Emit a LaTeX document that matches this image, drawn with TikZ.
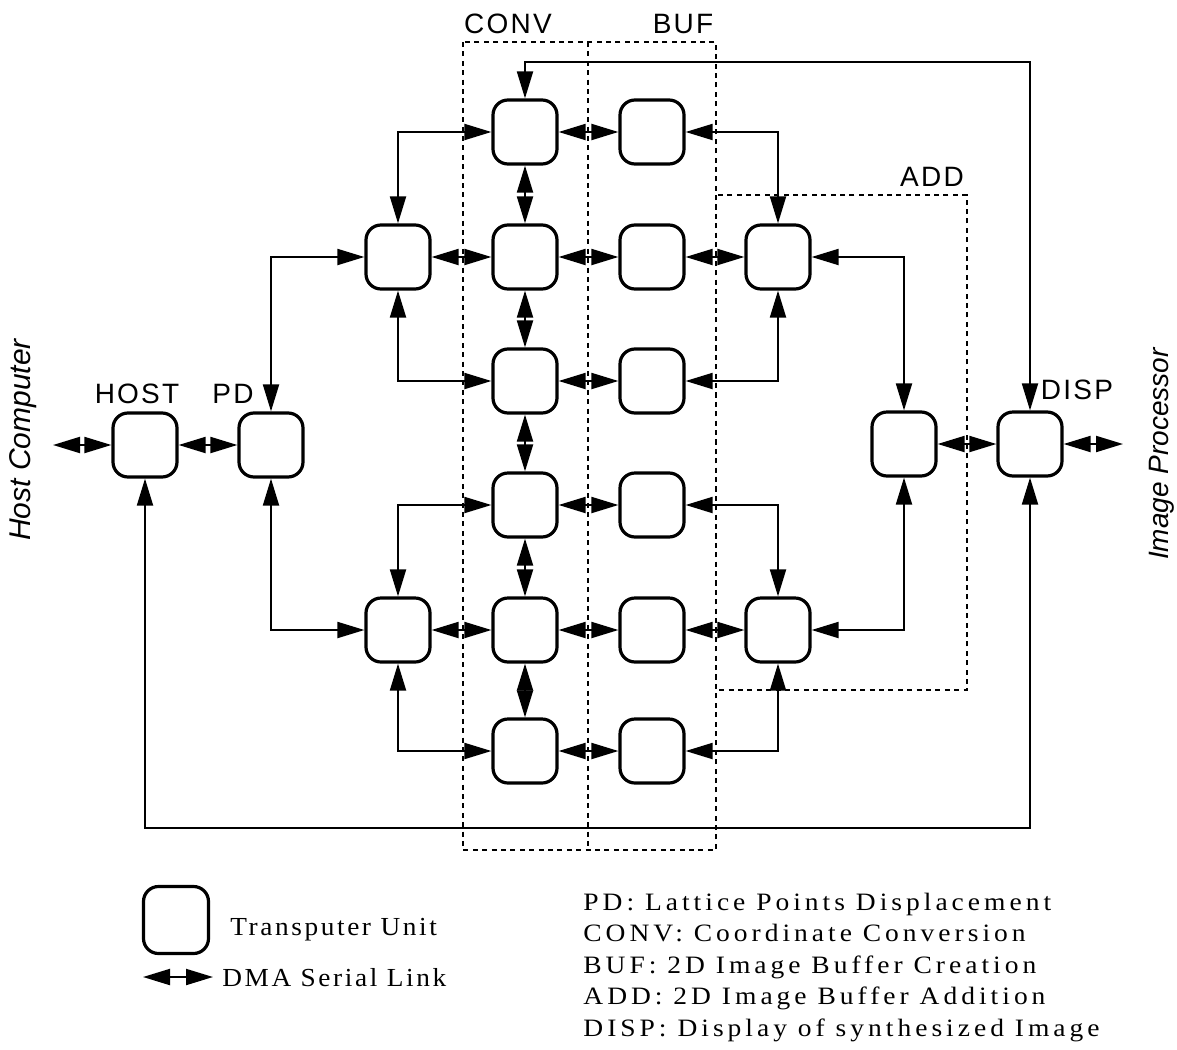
\documentclass[tikz,border=0pt]{standalone}
\usepackage{fontspec}
\setmainfont{Liberation Serif}
\newfontfamily\legfont[FakeStretch=1.05,LetterSpace=10]{Liberation Serif}
\newfontfamily\defsfont[FakeStretch=1.1,LetterSpace=16]{Liberation Serif}
\newfontfamily\labfont[LetterSpace=8]{Liberation Sans}
\newfontfamily\sidefont{Liberation Sans}
\usetikzlibrary{arrows.meta}
\begin{document}
\begin{tikzpicture}[x=0.5pt,y=-0.5pt,
  unit/.style={draw, line width=1.6pt, rounded corners=7.5pt, minimum width=32pt, minimum height=32pt, inner sep=0pt, fill=white},
  link/.style={line width=1pt, {Triangle[length=13.5pt,width=8pt]}-{Triangle[length=13.5pt,width=8pt]}},
  dashbox/.style={line width=1.3pt, dash pattern=on 2.5pt off 2.2pt},
  lab/.style={font=\labfont\fontsize{14pt}{16pt}\selectfont, anchor=base, inner sep=0pt},
  leg/.style={font=\legfont\fontsize{13pt}{15pt}\selectfont, anchor=base west, inner sep=0pt},
  defs/.style={font=\defsfont\fontsize{12.5pt}{14pt}\selectfont, anchor=base west, inner sep=0pt},
  side/.style={font=\sidefont\itshape\fontsize{14pt}{16pt}\selectfont, rotate=90, inner sep=0pt}
]
\useasboundingbox (0,0) rectangle (1177,1049);

% dashed groups
\draw[dashbox] (463,42) rectangle (716,850);
\draw[dashbox] (588,42) -- (588,850);
\draw[dashbox] (716,195) rectangle (967,690);

% units
\node[unit] (host) at (145,445) {};
\node[unit] (pd) at (271,445) {};
\node[unit] (L2) at (398,257) {};
\node[unit] (L5) at (398,630) {};
\node[unit] (C1) at (525,132) {};
\node[unit] (C2) at (525,257) {};
\node[unit] (C3) at (525,381) {};
\node[unit] (C4) at (525,505) {};
\node[unit] (C5) at (525,630) {};
\node[unit] (C6) at (525,751) {};
\node[unit] (B1) at (652,132) {};
\node[unit] (B2) at (652,257) {};
\node[unit] (B3) at (652,381) {};
\node[unit] (B4) at (652,505) {};
\node[unit] (B5) at (652,630) {};
\node[unit] (B6) at (652,751) {};
\node[unit] (R2) at (778,257) {};
\node[unit] (R5) at (778,630) {};
\node[unit] (add) at (904,444) {};
\node[unit] (disp) at (1030,444) {};

% free ends and corners
\coordinate (hostl) at (53,445);
\coordinate (dispr) at (1123,444);
\coordinate (tr) at (1030,62);
\coordinate (br) at (1030,828);

% links
\draw[link] (host.west) -- (hostl);
\draw[link] (host.east) -- (pd.west);
\draw[link] (pd.north) |- (L2.west);
\draw[link] (pd.south) |- (L5.west);
\draw[link] (L2.north) |- (C1.west);
\draw[link] (L2.south) |- (C3.west);
\draw[link] (L2.east) -- (C2.west);
\draw[link] (L5.north) |- (C4.west);
\draw[link] (L5.south) |- (C6.west);
\draw[link] (L5.east) -- (C5.west);
\draw[link] (C1.south) -- (C2.north);
\draw[link] (C2.south) -- (C3.north);
\draw[link] (C3.south) -- (C4.north);
\draw[link] (C4.south) -- (C5.north);
\draw[link] (C5.south) -- (C6.north);
\draw[link] (C1.east) -- (B1.west);
\draw[link] (C2.east) -- (B2.west);
\draw[link] (C3.east) -- (B3.west);
\draw[link] (C4.east) -- (B4.west);
\draw[link] (C5.east) -- (B5.west);
\draw[link] (C6.east) -- (B6.west);
\draw[link] (B1.east) -| (R2.north);
\draw[link] (B2.east) -- (R2.west);
\draw[link] (B3.east) -| (R2.south);
\draw[link] (B4.east) -| (R5.north);
\draw[link] (B5.east) -- (R5.west);
\draw[link] (B6.east) -| (R5.south);
\draw[link] (R2.east) -| (add.north);
\draw[link] (R5.east) -| (add.south);
\draw[link] (add.east) -- (disp.west);
\draw[link] (disp.east) -- (dispr);
\draw[link] (disp.north) -- (tr) -| (C1.north);
\draw[link] (host.south) |- (br) -- (disp.south);

% labels
\node[lab] (tconv) at (508,33) {CONV};
\node[lab] (tbuf) at (683,33) {BUF};
\node[lab] (tadd) at (932,186) {ADD};
\node[lab] (thost) at (137,403) {HOST};
\node[lab] (tpd) at (233,403) {PD};
\node[lab] (tdisp) at (1077,399) {DISP};
\node[side, font=\sidefont\itshape\fontsize{15pt}{17pt}\selectfont] (thc) at (23,440) {Host Computer};
\node[side] (tip) at (1162,454) {Image Processor};

% legend
\node[unit, minimum width=32.5pt, minimum height=33.5pt] (legbox) at (176,920) {};
\coordinate (la) at (143,977);
\coordinate (lb) at (213,977);
\draw[link] (la) -- (lb);
\node[leg] (ltu) at (230,935) {Transputer Unit};
\node[leg] (ldma) at (222,986) {DMA Serial Link};
\node[defs] (l1) at (583,910) {PD: Lattice Points Displacement};
\node[defs] (l2) at (583,941.5) {CONV: Coordinate Conversion};
\node[defs] (l3) at (583,973) {BUF: 2D Image Buffer Creation};
\node[defs] (l4) at (583,1004.5) {ADD: 2D Image Buffer Addition};
\node[defs] (l5) at (583,1036) {DISP: Display of synthesized Image};
\end{tikzpicture}
\end{document}
